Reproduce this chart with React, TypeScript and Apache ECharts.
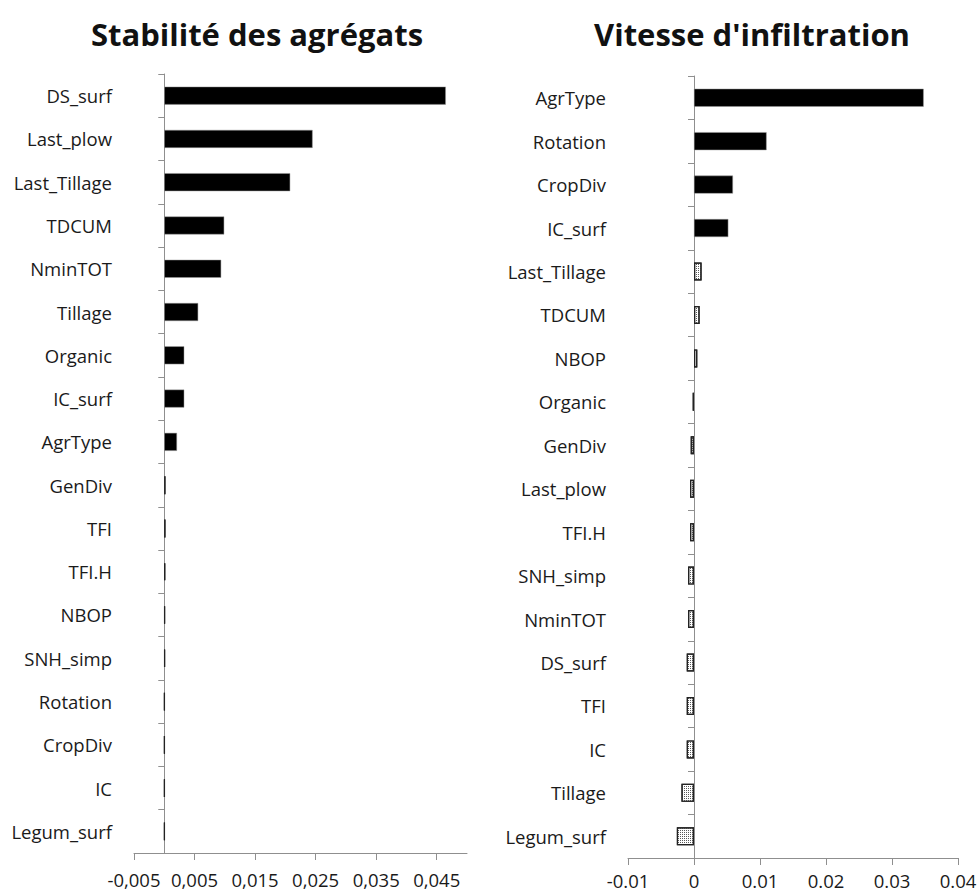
import React, { useEffect, useRef } from "react";
import * as echarts from "echarts";

const leftTitle = "Stabilité des agrégats";
const rightTitle = "Vitesse d'infiltration";

const leftCategories = [
  "DS_surf", "Last_plow", "Last_Tillage", "TDCUM", "NminTOT", "Tillage", "Organic", "IC_surf", "AgrType",
  "GenDiv", "TFI", "TFI.H", "NBOP", "SNH_simp", "Rotation", "CropDiv", "IC", "Legum_surf",
];
const leftValues = [
  0.0465, 0.0245, 0.0208, 0.0099, 0.0094, 0.0056, 0.0033, 0.0033, 0.0021,
  0.0002, 0.0002, 0.00015, 0.0001, 0.0001, 0.00005, 0.00005, 0.00005, 0.00005,
];
const leftSignificant = [
  true, true, true, true, true, true, true, true, true,
  false, false, false, false, false, false, false, false, false,
];
const leftTicks = [-0.005, 0.005, 0.015, 0.025, 0.035, 0.045];

const rightCategories = [
  "AgrType", "Rotation", "CropDiv", "IC_surf", "Last_Tillage", "TDCUM", "NBOP", "Organic", "GenDiv",
  "Last_plow", "TFI.H", "SNH_simp", "NminTOT", "DS_surf", "TFI", "IC", "Tillage", "Legum_surf",
];
const rightValues = [
  0.0348, 0.011, 0.0059, 0.0052, 0.00115, 0.00085, 0.0005, -0.0002, -0.0005,
  -0.0006, -0.0006, -0.0009, -0.0009, -0.0011, -0.0011, -0.0011, -0.0019, -0.0026,
];
const rightSignificant = [
  true, true, true, true, false, false, false, false, false,
  false, false, false, false, false, false, false, false, false,
];
const rightTicks = [-0.01, 0, 0.01, 0.02, 0.03, 0.04];

const FONT = "Open Sans";
const AXIS_GREY = "#8f8f8f";
const LABEL_SIZE = 18.5;

function items(values: number[], sig: boolean[]) {
  return values.map((v, i) =>
    sig[i]
      ? { value: v, itemStyle: { color: "#000", borderColor: "#9a9a9a", borderWidth: 0.5 } }
      : {
          value: v,
          itemStyle: {
            color: "#ffffff",
            borderColor: "#222",
            borderWidth: 1.2,
            decal: {
              symbol: "rect",
              symbolSize: 1,
              color: "#5a5a5a",
              backgroundColor: "#ffffff",
              dashArrayX: [1, 1],
              dashArrayY: [1, 1],
              rotation: 0,
            },
          },
        }
  );
}

export default function App() {
  const ref = useRef<HTMLDivElement>(null);
  useEffect(() => {
    if (!ref.current) return;
    const chart = echarts.init(ref.current, null, { renderer: "svg" });
    const catAxisCommon = {
      type: "category" as const,
      inverse: true,
      axisLine: { show: true, onZero: true, lineStyle: { color: AXIS_GREY, width: 1 } },
      axisTick: { show: true, length: 6, lineStyle: { color: AXIS_GREY } },
      axisLabel: { color: "#1a1a1a", fontFamily: FONT, fontSize: LABEL_SIZE, margin: 22 },
    };
    const valAxisCommon = {
      type: "value" as const,
      splitLine: { show: false },
      axisLine: { show: true, lineStyle: { color: AXIS_GREY, width: 1 } },
      axisTick: { show: true, length: 7, lineStyle: { color: AXIS_GREY } },
    };
    chart.setOption({
      animation: false,
      backgroundColor: "#ffffff",
      title: [
        {
          text: leftTitle,
          left: 252,
          top: 13,
          textAlign: "center",
          textStyle: { fontFamily: FONT, fontWeight: "bold", fontSize: 31, color: "#111" },
        },
        {
          text: rightTitle,
          left: 747,
          top: 13,
          textAlign: "center",
          textStyle: { fontFamily: FONT, fontWeight: "bold", fontSize: 31, color: "#111" },
        },
      ],
      grid: [
        { left: 134, width: 333, top: 74, height: 779, containLabel: false, outerBoundsMode: "none" },
        { left: 628, width: 330, top: 76, height: 782, containLabel: false, outerBoundsMode: "none" },
      ],
      xAxis: [
        {
          ...valAxisCommon,
          gridIndex: 0,
          min: -0.005,
          max: 0.05,
          interval: 0.01,
          axisTick: { ...valAxisCommon.axisTick, customValues: leftTicks },
          axisLabel: {
            customValues: leftTicks,
            color: "#1a1a1a",
            fontFamily: FONT,
            fontSize: LABEL_SIZE,
            margin: 17,
            formatter: (v: number) => v.toFixed(3).replace(".", ","),
          },
        },
        {
          ...valAxisCommon,
          gridIndex: 1,
          min: -0.01,
          max: 0.04,
          interval: 0.01,
          axisTick: { ...valAxisCommon.axisTick, customValues: rightTicks },
          axisLabel: {
            customValues: rightTicks,
            color: "#1a1a1a",
            fontFamily: FONT,
            fontSize: LABEL_SIZE,
            margin: 13,
            formatter: (v: number) => (Math.abs(v) < 1e-9 ? "0" : String(Math.round(v * 100) / 100)),
          },
        },
      ],
      yAxis: [
        {
          ...catAxisCommon,
          gridIndex: 0,
          data: leftCategories,
        },
        {
          ...catAxisCommon,
          gridIndex: 1,
          data: rightCategories,
        },
      ],
      series: [
        {
          type: "bar",
          xAxisIndex: 0,
          yAxisIndex: 0,
          barWidth: 18,
          data: items(leftValues, leftSignificant),
        },
        {
          type: "bar",
          xAxisIndex: 1,
          yAxisIndex: 1,
          barWidth: 18,
          data: items(rightValues, rightSignificant),
        },
      ],
    });
    return () => chart.dispose();
  }, []);
  return (
    <div
      ref={ref}
      style={{ position: "absolute", left: 0, top: 0, width: 978, height: 893, background: "#fff" }}
    />
  );
}
